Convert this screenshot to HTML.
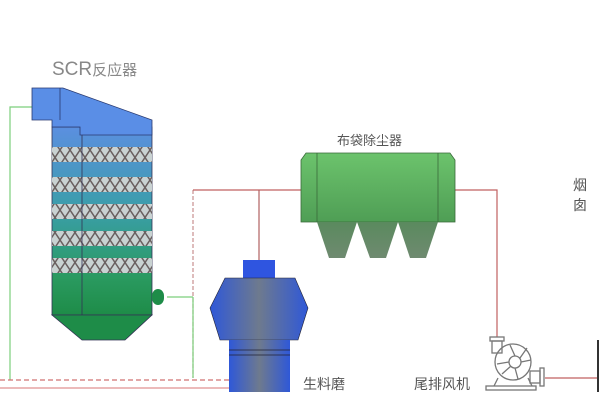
<!DOCTYPE html>
<html><head><meta charset="utf-8"><style>
html,body{margin:0;padding:0;background:#fff;}
svg{display:block;}
text{font-family:"Liberation Sans","Noto Sans CJK SC",sans-serif;}
</style></head><body>
<svg width="600" height="400" viewBox="0 0 600 400" xmlns="http://www.w3.org/2000/svg">
<defs>
<linearGradient id="scr" x1="0" y1="0" x2="0" y2="1">
<stop offset="0" stop-color="#5b8fe0"/><stop offset="0.45" stop-color="#3a9ea8"/><stop offset="0.8" stop-color="#2a9a60"/><stop offset="1" stop-color="#1e8c48"/>
</linearGradient>
<pattern id="mesh" width="10" height="15" patternUnits="userSpaceOnUse">
<rect width="10" height="15" fill="#c9d2d2"/>
<path d="M0 0L10 15M10 0L0 15" stroke="#6a6060" stroke-width="1.5"/>
</pattern>
<linearGradient id="bag" x1="0" y1="0" x2="0" y2="1"><stop offset="0" stop-color="#6cc36c"/><stop offset="1" stop-color="#4f9e55"/></linearGradient>
<linearGradient id="hop" x1="0" y1="0" x2="0" y2="1"><stop offset="0" stop-color="#5a8a5e"/><stop offset="1" stop-color="#6f8a70"/></linearGradient>
<linearGradient id="mill" x1="0" y1="0" x2="1" y2="0"><stop offset="0" stop-color="#2f58d8"/><stop offset="0.5" stop-color="#6e7a8e"/><stop offset="1" stop-color="#2f58d8"/></linearGradient>
</defs>
<!-- lines -->
<g fill="none">
<polyline points="32,107 10,107 10,380" stroke="#7ccf7c" stroke-width="1.2"/>
<polyline points="167,297 193,297" stroke="#7ccf7c" stroke-width="1.2"/>
<line x1="193" y1="190" x2="193" y2="378" stroke="#c89090" stroke-width="1.2" stroke-dasharray="4,2"/>
<line x1="193" y1="297" x2="193" y2="378" stroke="#7ccf7c" stroke-width="1.2"/>
<line x1="0" y1="380" x2="230" y2="380" stroke="#d07070" stroke-width="1.2" stroke-dasharray="5,3"/>
<line x1="0" y1="388" x2="230" y2="388" stroke="#e09090" stroke-width="1.2"/>
<polyline points="193,190 301,190" stroke="#c06060" stroke-width="1.2"/>
<line x1="259" y1="190" x2="259" y2="260" stroke="#b06060" stroke-width="1.2"/>
<polyline points="455,190 497,190 497,337" stroke="#c06060" stroke-width="1.2"/>
<line x1="545" y1="378" x2="598" y2="378" stroke="#c06060" stroke-width="1.2"/>
<line x1="598" y1="340" x2="598" y2="392" stroke="#333" stroke-width="2"/>
</g>
<!-- SCR -->
<rect x="52" y="127" width="100" height="188" fill="url(#scr)" stroke="#335" stroke-width="0.8"/>
<rect x="52" y="147" width="100" height="15" fill="url(#mesh)"/>
<rect x="52" y="177" width="100" height="15" fill="url(#mesh)"/>
<rect x="52" y="204" width="100" height="15" fill="url(#mesh)"/>
<rect x="52" y="231" width="100" height="15" fill="url(#mesh)"/>
<rect x="52" y="258" width="100" height="15" fill="url(#mesh)"/>
<line x1="82" y1="127" x2="82" y2="315" stroke="#335" stroke-width="0.8"/>
<polygon points="32,88 63,88 152,120 152,135 80,135 80,127 52,127 52,120 32,120" fill="#5a8ee6" stroke="#2a3a70" stroke-width="0.8"/>
<line x1="60" y1="88" x2="60" y2="120" stroke="#2a3a70" stroke-width="0.8"/>
<polygon points="52,315 152,315 125,340 82,340" fill="#1e8c48" stroke="#335" stroke-width="0.8"/>
<rect x="152" y="289" width="12" height="16" rx="7" fill="#1e8c48"/>
<!-- baghouse -->
<polygon points="306,153 450,153 455,160 455,222 301,222 301,160" fill="url(#bag)" stroke="#3a6a3a" stroke-width="0.8"/>
<line x1="317" y1="153" x2="317" y2="222" stroke="#3a6a3a" stroke-width="0.8"/>
<line x1="438" y1="153" x2="438" y2="222" stroke="#3a6a3a" stroke-width="0.8"/>
<polygon points="317,222 357,222 345,258 329,258" fill="url(#hop)"/>
<polygon points="357,222 398,222 386,258 370,258" fill="url(#hop)"/>
<polygon points="398,222 438,222 426,258 410,258" fill="url(#hop)"/>
<!-- mill -->
<rect x="243" y="260" width="32" height="18" fill="#2f55e0"/>
<polygon points="225,278 295,278 308,308 298,340 220,340 210,308" fill="url(#mill)" stroke="#223" stroke-width="0.6"/>
<rect x="229" y="340" width="61" height="52" fill="url(#mill)"/>
<line x1="229" y1="350" x2="290" y2="350" stroke="#223" stroke-width="0.8"/>
<line x1="229" y1="355" x2="290" y2="355" stroke="#223" stroke-width="0.8"/>
<!-- fan -->
<g fill="none" stroke="#777" stroke-width="1.3">
<circle cx="513" cy="362" r="18"/><circle cx="515" cy="362" r="6"/>
<path d="M515 356L510 345M521 362L531 360M515 368L518 379M509 362L497 364M520 358L527 348M511 366L502 374"/>
<rect x="490" y="337" width="14" height="4"/><rect x="492" y="341" width="10" height="12"/>
<path d="M498 378L494 386M528 378L532 386"/><rect x="486" y="386" width="50" height="4"/>
<rect x="530" y="371" width="10" height="12"/><rect x="540" y="368" width="4" height="18"/>
</g>
<!-- labels -->
<text x="52" y="75" font-size="19" fill="#888">SCR<tspan font-size="15">反应器</tspan></text>
<text x="337" y="145" font-size="13" fill="#555">布袋除尘器</text>
<text x="573" y="190" font-size="14" fill="#555">烟</text>
<text x="573" y="210" font-size="14" fill="#555">囱</text>
<text x="303" y="389" font-size="14" fill="#555">生料磨</text>
<text x="414" y="389" font-size="14" fill="#555">尾排风机</text>
</svg>
</body></html>
